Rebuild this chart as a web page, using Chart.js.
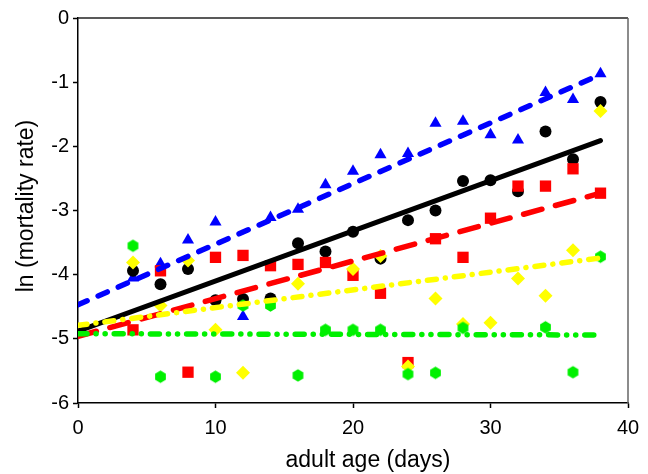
<!DOCTYPE html>
<html>
<head>
<meta charset="utf-8">
<script src="https://cdn.jsdelivr.net/npm/chart.js@4.4.1/dist/chart.umd.min.js"></script>
<style>
  html, body { margin: 0; padding: 0; background: #fff; }
  #c { display: block; }
</style>
</head>
<body>
<canvas id="c" width="648" height="474"></canvas>
<script>
// sampling days (adult age)
const days = [4, 6, 8, 10, 12, 14, 16, 18, 20, 22, 24, 26, 28, 30, 32, 34, 36, 38];

// ln(mortality rate) per group
const blueVals   = [-4.05, -3.83, -3.46, -3.18, -4.65, -3.11, -2.98, -2.60, -2.39, -2.13, -2.11, -1.64, -1.61, -1.82, -1.90, -1.16, -1.27, -0.87];
const blackVals  = [-3.94, -4.15, -3.91, -4.40, -4.38, -4.37, -3.51, -3.64, -3.33, -3.75, -3.15, -3.00, -2.54, -2.53, -2.70, -1.77, -2.20, -1.31];
const redVals    = [-4.86, -3.94, -5.52, -3.73, -3.70, -3.86, -3.84, -3.81, -4.01, -4.29, -5.37, -3.44, -3.73, -3.12, -2.62, -2.62, -2.35, -2.73];
const yellowVals = [-3.81, -4.48, -3.78, -4.86, -5.53, null, -4.14, null, -3.91, -3.71, -5.43, -4.37, -4.77, -4.75, -4.06, -4.33, -3.62, -1.45];
const greenVals  = [-3.55, -5.59, null, -5.59, -4.48, -4.48, -5.57, -4.86, -4.86, -4.86, -5.55, -5.53, -4.83, null, null, -4.82, -5.52, -3.72];

// fitted regression lines, endpoints at day 0 and day 38
const fitX      = [0, 38];
const blueFit   = [-4.47, -0.88];
const blackFit  = [-4.88, -1.91];
const redFit    = [-4.96, -2.73];
const yellowFit = [-4.79, -3.74];
const greenFit  = [-4.92, -4.94];

const xTicks = [0, 10, 20, 30, 40];
const yTicks = [-6, -5, -4, -3, -2, -1, 0];
const xTitle = 'adult age (days)';
const yTitle = 'ln (mortality rate)';

function pts(xs, ys) {
    return xs.map((x, i) => ({ x: x, y: ys[i] })).filter(p => p.y !== null);
}

// chart.js has no hexagon, so make one
function hexagon(r, color) {
    const s = Math.ceil(r * 2 + 2);
    const cv = document.createElement('canvas');
    cv.width = s; cv.height = s;
    const c = cv.getContext('2d');
    c.fillStyle = color;
    c.beginPath();
    for (let i = 0; i < 6; i++) {
        const a = Math.PI / 3 * i + Math.PI / 6;
        const px = s / 2 + r * Math.cos(a), py = s / 2 + r * Math.sin(a);
        if (i === 0) c.moveTo(px, py); else c.lineTo(px, py);
    }
    c.closePath();
    c.fill();
    return cv;
}

function scatter(vals, color, style, radius, order) {
    return {
        type: 'scatter',
        data: pts(days, vals),
        pointStyle: style,
        pointRadius: radius,
        pointBackgroundColor: color,
        pointBorderColor: color,
        pointBorderWidth: 0,
        showLine: false,
        order: order
    };
}

function fit(vals, color, width, dash, order) {
    return {
        type: 'line',
        data: pts(fitX, vals),
        borderColor: color,
        borderWidth: width,
        borderDash: dash,
        borderCapStyle: 'round',
        pointRadius: 0,
        fill: false,
        order: order
    };
}

const font = 'Liberation Sans, Arial, Helvetica, sans-serif';

// top/right frame + axis titles
const frame = {
    id: 'frame',
    afterDraw(chart) {
        const a = chart.chartArea, ctx = chart.ctx;
        ctx.save();
        ctx.lineWidth = 1.5;
        ctx.strokeStyle = '#222';
        ctx.beginPath();
        ctx.moveTo(a.left, a.top);
        ctx.lineTo(a.right, a.top);
        ctx.stroke();
        ctx.strokeStyle = '#666';
        ctx.beginPath();
        ctx.moveTo(a.right, a.top);
        ctx.lineTo(a.right, a.bottom);
        ctx.stroke();

        ctx.fillStyle = '#000';
        ctx.font = '23px ' + font;
        ctx.textAlign = 'center';
        ctx.textBaseline = 'middle';
        ctx.fillText(xTitle, 368, 461);
        ctx.translate(27, 206);
        ctx.rotate(-Math.PI / 2);
        ctx.fillText(yTitle, 0, 0);
        ctx.restore();
    }
};

new Chart(document.getElementById('c'), {
    data: {
        datasets: [
            scatter(blueVals, '#0000ff', 'triangle', 7, 14),
            scatter(blackVals, '#000000', 'circle', 6, 13),
            scatter(redVals, '#ff0000', 'rect', 8, 12),
            scatter(yellowVals, '#ffff00', 'rectRot', 7, 11),
            scatter(greenVals, '#00f000', hexagon(6.2, '#00f000'), 7, 10),
            fit(blueFit, '#0000ff', 5.5, [10, 12], 5),
            fit(blackFit, '#000000', 5, [], 4),
            fit(redFit, '#ff0000', 5.5, [19, 14], 3),
            fit(yellowFit, '#ffff00', 5.5, [9, 9, 0.1, 9], 2),
            fit(greenFit, '#00f000', 5.5, [9, 9, 0.1, 9, 0.1, 9], 1)
        ]
    },
    options: {
        responsive: false,
        animation: false,
        devicePixelRatio: 1,
        layout: { padding: { top: 18, right: 20, left: 0, bottom: 0 } },
        plugins: {
            legend: { display: false },
            tooltip: { enabled: false }
        },
        scales: {
            x: {
                type: 'linear',
                min: 0, max: 40,
                afterFit(s) { s.height = 71; },
                afterBuildTicks(s) { s.ticks = xTicks.map(v => ({ value: v })); },
                ticks: { color: '#000', font: { family: font, size: 20 }, padding: 8 },
                grid: { drawOnChartArea: false, drawTicks: true, tickLength: 5, color: '#000', tickWidth: 1.5 },
                border: { display: true, color: '#000', width: 1.5 }
            },
            y: {
                type: 'linear',
                min: -6, max: 0,
                afterFit(s) { s.width = 78; },
                afterBuildTicks(s) { s.ticks = yTicks.map(v => ({ value: v })); },
                ticks: { color: '#000', font: { family: font, size: 20 }, padding: 4 },
                grid: { drawOnChartArea: false, drawTicks: true, tickLength: 5, color: '#000', tickWidth: 1.5 },
                border: { display: true, color: '#000', width: 1.5 }
            }
        }
    },
    plugins: [frame]
});
</script>
</body>
</html>
